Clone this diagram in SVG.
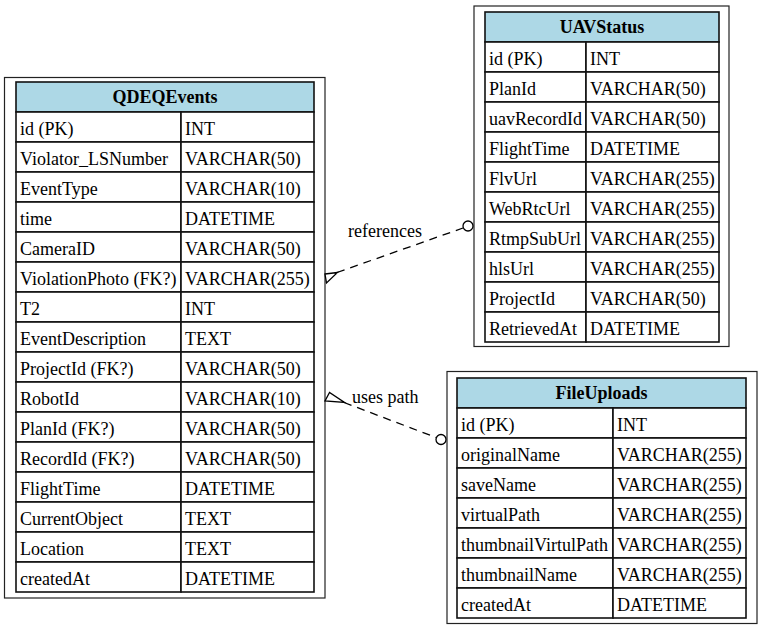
<svg xmlns="http://www.w3.org/2000/svg" width="762" height="629" viewBox="0 0 762 629">
<style>
  .outer { fill: #ffffff; stroke: #222; stroke-width: 1.2; }
  .hdr { fill: #add8e6; stroke: #111; stroke-width: 1.6; }
  .cell { fill: #ffffff; stroke: #111; stroke-width: 1.6; }
  text { font-family: 'Liberation Serif', 'Times New Roman', Times, 'DejaVu Serif', serif; font-size: 18px; fill: #000; }
  .h { font-weight: bold; text-anchor: middle; }
  .edge { fill: none; stroke: #000; stroke-width: 1.3; stroke-dasharray: 8,6; }
  .end { fill: #fff; stroke: #000; stroke-width: 1.3; }
</style>
<rect width="762" height="629" fill="#ffffff"/>

<g id="QDEQEvents">
  <rect class="outer" x="4.5" y="77.5" width="320.5" height="520.5"/>
  <rect class="hdr" x="16" y="82" width="298" height="30"/>
  <text class="h" x="165" y="103">QDEQEvents</text>
  <g>
    <rect class="cell" x="16" y="112" width="165" height="30"/><rect class="cell" x="181" y="112" width="133" height="30"/>
    <rect class="cell" x="16" y="142" width="165" height="30"/><rect class="cell" x="181" y="142" width="133" height="30"/>
    <rect class="cell" x="16" y="172" width="165" height="30"/><rect class="cell" x="181" y="172" width="133" height="30"/>
    <rect class="cell" x="16" y="202" width="165" height="30"/><rect class="cell" x="181" y="202" width="133" height="30"/>
    <rect class="cell" x="16" y="232" width="165" height="30"/><rect class="cell" x="181" y="232" width="133" height="30"/>
    <rect class="cell" x="16" y="262" width="165" height="30"/><rect class="cell" x="181" y="262" width="133" height="30"/>
    <rect class="cell" x="16" y="292" width="165" height="30"/><rect class="cell" x="181" y="292" width="133" height="30"/>
    <rect class="cell" x="16" y="322" width="165" height="30"/><rect class="cell" x="181" y="322" width="133" height="30"/>
    <rect class="cell" x="16" y="352" width="165" height="30"/><rect class="cell" x="181" y="352" width="133" height="30"/>
    <rect class="cell" x="16" y="382" width="165" height="30"/><rect class="cell" x="181" y="382" width="133" height="30"/>
    <rect class="cell" x="16" y="412" width="165" height="30"/><rect class="cell" x="181" y="412" width="133" height="30"/>
    <rect class="cell" x="16" y="442" width="165" height="30"/><rect class="cell" x="181" y="442" width="133" height="30"/>
    <rect class="cell" x="16" y="472" width="165" height="30"/><rect class="cell" x="181" y="472" width="133" height="30"/>
    <rect class="cell" x="16" y="502" width="165" height="30"/><rect class="cell" x="181" y="502" width="133" height="30"/>
    <rect class="cell" x="16" y="532" width="165" height="30"/><rect class="cell" x="181" y="532" width="133" height="30"/>
    <rect class="cell" x="16" y="562" width="165" height="30"/><rect class="cell" x="181" y="562" width="133" height="30"/>
  </g>
  <text x="20" y="134.5">id (PK)</text><text x="185" y="134.5">INT</text>
  <text x="20" y="164.5">Violator_LSNumber</text><text x="185" y="164.5">VARCHAR(50)</text>
  <text x="20" y="194.5">EventType</text><text x="185" y="194.5">VARCHAR(10)</text>
  <text x="20" y="224.5">time</text><text x="185" y="224.5">DATETIME</text>
  <text x="20" y="254.5">CameraID</text><text x="185" y="254.5">VARCHAR(50)</text>
  <text x="20" y="284.5">ViolationPhoto (FK?)</text><text x="185" y="284.5">VARCHAR(255)</text>
  <text x="20" y="314.5">T2</text><text x="185" y="314.5">INT</text>
  <text x="20" y="344.5">EventDescription</text><text x="185" y="344.5">TEXT</text>
  <text x="20" y="374.5">ProjectId (FK?)</text><text x="185" y="374.5">VARCHAR(50)</text>
  <text x="20" y="404.5">RobotId</text><text x="185" y="404.5">VARCHAR(10)</text>
  <text x="20" y="434.5">PlanId (FK?)</text><text x="185" y="434.5">VARCHAR(50)</text>
  <text x="20" y="464.5">RecordId (FK?)</text><text x="185" y="464.5">VARCHAR(50)</text>
  <text x="20" y="494.5">FlightTime</text><text x="185" y="494.5">DATETIME</text>
  <text x="20" y="524.5">CurrentObject</text><text x="185" y="524.5">TEXT</text>
  <text x="20" y="554.5">Location</text><text x="185" y="554.5">TEXT</text>
  <text x="20" y="584.5">createdAt</text><text x="185" y="584.5">DATETIME</text>
</g>

<g id="UAVStatus">
  <rect class="outer" x="474" y="6" width="255" height="340.5"/>
  <rect class="hdr" x="485" y="12" width="234" height="30"/>
  <text class="h" x="602" y="33">UAVStatus</text>
  <g>
    <rect class="cell" x="485" y="42" width="101" height="30"/><rect class="cell" x="586" y="42" width="133" height="30"/>
    <rect class="cell" x="485" y="72" width="101" height="30"/><rect class="cell" x="586" y="72" width="133" height="30"/>
    <rect class="cell" x="485" y="102" width="101" height="30"/><rect class="cell" x="586" y="102" width="133" height="30"/>
    <rect class="cell" x="485" y="132" width="101" height="30"/><rect class="cell" x="586" y="132" width="133" height="30"/>
    <rect class="cell" x="485" y="162" width="101" height="30"/><rect class="cell" x="586" y="162" width="133" height="30"/>
    <rect class="cell" x="485" y="192" width="101" height="30"/><rect class="cell" x="586" y="192" width="133" height="30"/>
    <rect class="cell" x="485" y="222" width="101" height="30"/><rect class="cell" x="586" y="222" width="133" height="30"/>
    <rect class="cell" x="485" y="252" width="101" height="30"/><rect class="cell" x="586" y="252" width="133" height="30"/>
    <rect class="cell" x="485" y="282" width="101" height="30"/><rect class="cell" x="586" y="282" width="133" height="30"/>
    <rect class="cell" x="485" y="312" width="101" height="30"/><rect class="cell" x="586" y="312" width="133" height="30"/>
  </g>
  <text x="489" y="64.5">id (PK)</text><text x="590" y="64.5">INT</text>
  <text x="489" y="94.5">PlanId</text><text x="590" y="94.5">VARCHAR(50)</text>
  <text x="489" y="124.5">uavRecordId</text><text x="590" y="124.5">VARCHAR(50)</text>
  <text x="489" y="154.5">FlightTime</text><text x="590" y="154.5">DATETIME</text>
  <text x="489" y="184.5">FlvUrl</text><text x="590" y="184.5">VARCHAR(255)</text>
  <text x="489" y="214.5">WebRtcUrl</text><text x="590" y="214.5">VARCHAR(255)</text>
  <text x="489" y="244.5">RtmpSubUrl</text><text x="590" y="244.5">VARCHAR(255)</text>
  <text x="489" y="274.5">hlsUrl</text><text x="590" y="274.5">VARCHAR(255)</text>
  <text x="489" y="304.5">ProjectId</text><text x="590" y="304.5">VARCHAR(50)</text>
  <text x="489" y="334.5">RetrievedAt</text><text x="590" y="334.5">DATETIME</text>
</g>

<g id="FileUploads">
  <rect class="outer" x="447" y="371.5" width="310" height="252"/>
  <rect class="hdr" x="457" y="378" width="289" height="30"/>
  <text class="h" x="601.5" y="399">FileUploads</text>
  <g>
    <rect class="cell" x="457" y="408" width="156" height="30"/><rect class="cell" x="613" y="408" width="133" height="30"/>
    <rect class="cell" x="457" y="438" width="156" height="30"/><rect class="cell" x="613" y="438" width="133" height="30"/>
    <rect class="cell" x="457" y="468" width="156" height="30"/><rect class="cell" x="613" y="468" width="133" height="30"/>
    <rect class="cell" x="457" y="498" width="156" height="30"/><rect class="cell" x="613" y="498" width="133" height="30"/>
    <rect class="cell" x="457" y="528" width="156" height="30"/><rect class="cell" x="613" y="528" width="133" height="30"/>
    <rect class="cell" x="457" y="558" width="156" height="30"/><rect class="cell" x="613" y="558" width="133" height="30"/>
    <rect class="cell" x="457" y="588" width="156" height="30"/><rect class="cell" x="613" y="588" width="133" height="30"/>
  </g>
  <text x="461" y="430.5">id (PK)</text><text x="617" y="430.5">INT</text>
  <text x="461" y="460.5">originalName</text><text x="617" y="460.5">VARCHAR(255)</text>
  <text x="461" y="490.5">saveName</text><text x="617" y="490.5">VARCHAR(255)</text>
  <text x="461" y="520.5">virtualPath</text><text x="617" y="520.5">VARCHAR(255)</text>
  <text x="461" y="550.5">thumbnailVirtulPath</text><text x="617" y="550.5">VARCHAR(255)</text>
  <text x="461" y="580.5">thumbnailName</text><text x="617" y="580.5">VARCHAR(255)</text>
  <text x="461" y="610.5">createdAt</text><text x="617" y="610.5">DATETIME</text>
</g>

<g id="connectors">
  <g id="edge-references">
    <path class="edge" d="M337,272.5 L463,228"/>
    <polygon class="end" points="325,274 337.5,272.5 326.5,283"/>
    <circle class="end" cx="468" cy="226" r="5"/>
    <text x="348" y="237">references</text>
  </g>
  <g id="edge-uses-path">
    <path class="edge" d="M344,402.5 L436,437.5"/>
    <polygon class="end" points="329.5,392.5 325,401 344.5,402.5"/>
    <circle class="end" cx="441" cy="439.5" r="5"/>
    <text x="352" y="403">uses path</text>
  </g>
</g>
</svg>
